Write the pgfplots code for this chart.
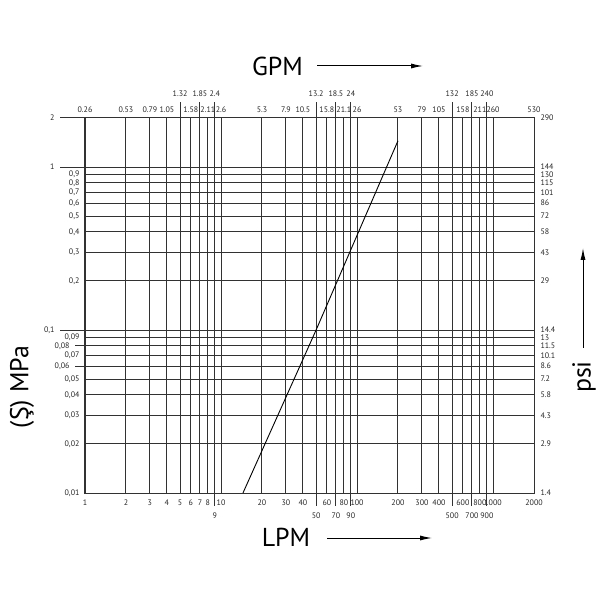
\documentclass[border=0pt]{standalone}
\usepackage{fontspec}
\setmainfont{PT Sans}
\usepackage{pgfplots}
\pgfplotsset{compat=1.18}
\usetikzlibrary{arrows.meta}
\definecolor{gridc}{RGB}{50,50,50}
\begin{document}
\begin{tikzpicture}
\path[use as bounding box] (-85bp,-107bp) rectangle (515bp,493bp);
\begin{axis}[xmode=log, ymode=log, xmin=1, xmax=2000, ymin=0.01, ymax=2,
  scale only axis, width=449bp, height=375bp, at={(0bp,0bp)}, anchor=south west,
  axis line style={gridc, line width=1bp},
  tick style={gridc, line width=1bp},
  tick label style={font=\fontsize{8}{9}\selectfont, text=black!85},
  xticklabel style={yshift=-3bp},
  yticklabel style={xshift=-2bp},
  major tick length=0bp,
 xtick pos=bottom, ytick pos=left,
 xtick={1,2,3,4,5,6,7,8,10,20,30,40,60,80,100,200,300,400,600,800,1000,2000},
 xticklabels={1,2,3,4,5,6,7,8,10,20,30,40,60,80,100,200,300,400,600,800,1000,2000},
 extra x ticks={9,50,70,90,500,700,900},
 extra x tick labels={9,50,70,90,500,700,900},
 extra x tick style={tick align=outside, major tick length=13bp},
 ytick={0.01,0.02,0.03,0.04,0.05,0.06,0.07,0.08,0.09,0.2,0.3,0.4,0.5,0.6,0.7,0.8,0.9},
 yticklabels={{0,01},{0,02},{0,03},{0,04},{0,05},{},{0,07},{},{0,09},{0,2},{0,3},{0,4},{0,5},{0,6},{0,7},{0,8},{0,9}},
 extra y ticks={0.1,1,2},
 extra y tick labels={{0,1},1,2},
 extra y tick style={tick align=outside, major tick length=25bp},
 grid=major, grid style={gridc, line width=1bp},
]
\addplot[black, line width=0.9bp] coordinates {(14.5,0.01) (50,0.1) (200,1.45)};
\end{axis}
\begin{axis}[xmode=log, ymode=log, xmin=1, xmax=2000, ymin=0.01, ymax=2,
  scale only axis, width=449bp, height=375bp, at={(0bp,0bp)}, anchor=south west,
  axis line style={gridc, line width=1bp},
  tick style={gridc, line width=1bp},
  tick label style={font=\fontsize{8}{9}\selectfont, text=black!85},
  xticklabel style={yshift=2bp},
  yticklabel style={xshift=3bp},
  major tick length=0bp,
 axis x line*=top, axis y line*=right,
 xtick={1,2,3,4,6,8,10,20,30,40,60,80,100,200,300,400,600,800,1000,2000},
 xticklabels={0.26,0.53,0.79,1.05,1.58,2.11,2.6,5.3,7.9,10.5,15.8,21.1,26,53,79,105,158,211,260,530},
 extra x ticks={5,7,9,50,70,90,500,700,900},
 extra x tick labels={1.32,1.85,2.4,13.2,18.5,24,132,185,240},
 extra x tick style={tick align=outside, major tick length=16bp},
 ytick={0.01,0.02,0.03,0.04,0.05,0.06,0.07,0.08,0.09,0.1,0.2,0.3,0.4,0.5,0.6,0.7,0.8,0.9,1,2},
 yticklabels={1.4,2.9,4.3,5.8,7.2,8.6,10.1,11.5,13,14.4,29,43,58,72,86,101,115,130,144,290},
]
\end{axis}
\begin{axis}[xmode=log, ymode=log, xmin=1, xmax=2000, ymin=0.01, ymax=2,
  scale only axis, width=449bp, height=375bp, at={(0bp,0bp)}, anchor=south west,
  axis line style={gridc, line width=1bp},
  tick style={gridc, line width=1bp},
  tick label style={font=\fontsize{8}{9}\selectfont, text=black!85},
  yticklabel style={xshift=-2bp},
  hide x axis, axis y line*=left,
 ytick={0.06,0.08}, yticklabels={{0,06},{0,08}},
 tick align=outside, major tick length=10bp]
\end{axis}
\node[font=\fontsize{26}{30}\selectfont] at (192.5bp,427bp) {GPM};
\draw[line width=1bp, -{Latex[length=12bp,width=5bp]}] (232bp,427bp) -- (338bp,427bp);
\node[font=\fontsize{26}{30}\selectfont] at (201bp,-44.5bp) {LPM};
\draw[line width=1bp, -{Latex[length=12bp,width=5bp]}] (242bp,-45bp) -- (347bp,-45bp);
\node[font=\fontsize{26}{30}\selectfont, rotate=90] at (499bp,116bp) {psi};
\draw[line width=1bp, -{Latex[length=12bp,width=5bp]}] (498bp,145bp) -- (498bp,245bp);
\node[font=\fontsize{26}{30}\selectfont, rotate=90] at (-63bp,106bp) {(Ş) MPa};
\end{tikzpicture}
\end{document}
